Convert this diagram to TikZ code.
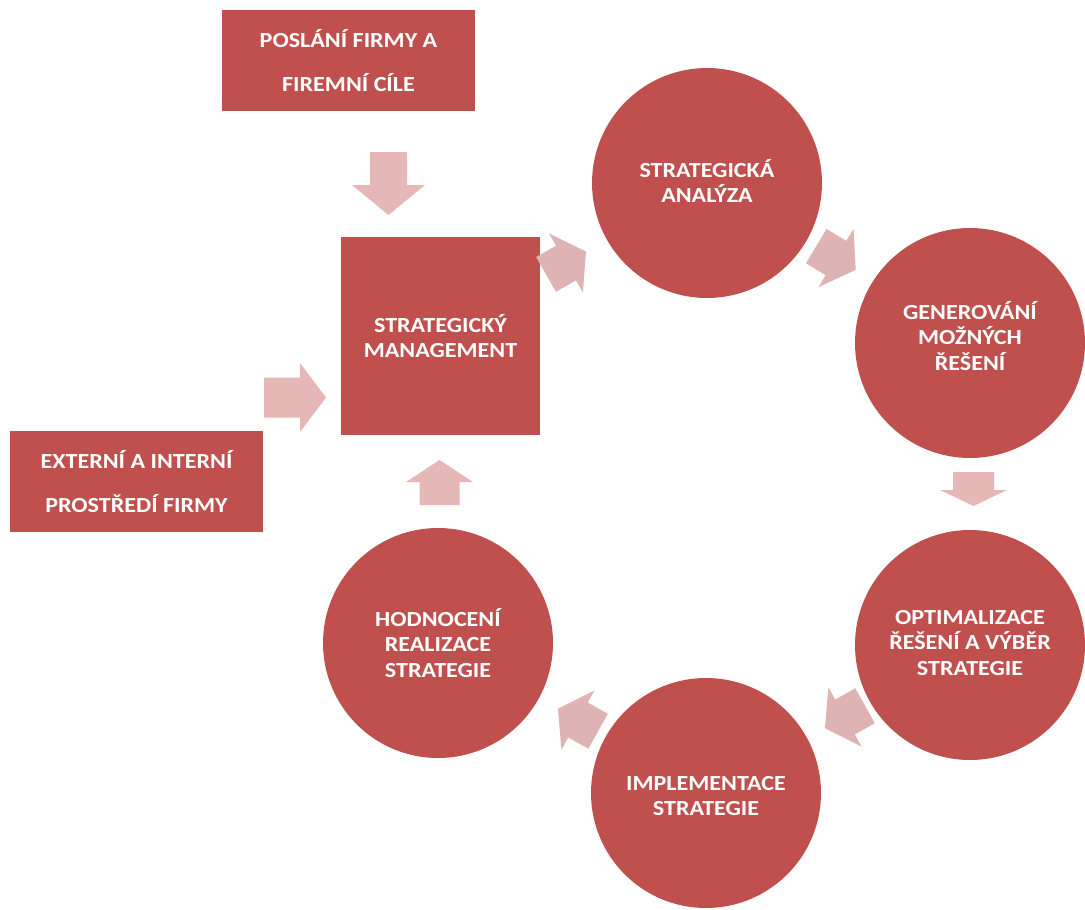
\documentclass[tikz,border=0pt]{standalone}
\usepackage{fontspec}
\setmainfont{Carlito}[FakeStretch=1.12]
\definecolor{mainred}{HTML}{C0504D}
\definecolor{outarrow}{HTML}{E5B8B7}
\definecolor{cycarrow}{HTML}{DDB3B3}
\newcommand{\blockarrow}[8]{%
  \begin{scope}[shift={(#1,#2)},rotate=#3]
    \pgfmathsetmacro{\hl}{#4/2}\pgfmathsetmacro{\hw}{#5/2}%
    \pgfmathsetmacro{\hW}{#6/2}\pgfmathsetmacro{\hb}{#4/2-#7}%
    \fill[#8] (-\hl pt,-\hw pt) -- (\hb pt,-\hw pt) -- (\hb pt,-\hW pt) -- (\hl pt,0pt)
      -- (\hb pt,\hW pt) -- (\hb pt,\hw pt) -- (-\hl pt,\hw pt) -- cycle;
  \end{scope}}
\tikzset{
  txt/.style={text=white, font=\bfseries\fontsize{21.5}{25.5}\selectfont, align=center, inner sep=0pt},
  boxtxt/.style={text=white, font=\bfseries\fontsize{21.5}{44}\selectfont, align=center, inner sep=0pt},
  rbox/.style={fill=mainred, draw=none, rectangle, inner sep=0pt},
  stage/.style={fill=mainred, draw=none, circle, minimum size=230pt, inner sep=0pt},
}
\begin{document}
\begin{tikzpicture}[x=1pt,y=-1pt]
\useasboundingbox (0,0) rectangle (1085,910);
% boxes
\node[rbox, minimum width=253pt, minimum height=101pt] (mise) at (348.5,60.5) {};
\node[boxtxt] (misetxt) at (mise) {POSLÁNÍ FIRMY A\\FIREMNÍ CÍLE};
\node[rbox, minimum width=253pt, minimum height=101pt] (env) at (136.5,481.5) {};
\node[boxtxt] (envtxt) at (env) {EXTERNÍ A INTERNÍ\\PROSTŘEDÍ FIRMY};
\node[rbox, minimum width=199pt, minimum height=198pt] (sm) at (440.5,336) {};
\node[txt] (smtxt) at (sm) {STRATEGICKÝ\\MANAGEMENT};
% circles
\node[stage] (c1) at (707,183) {};
\node[txt] at ([yshift=2pt]c1) {STRATEGICKÁ\\ANALÝZA};
\node[stage] (c2) at (970,343) {};
\node[txt] at ([yshift=7pt]c2) {GENEROVÁNÍ\\MOŽNÝCH\\ŘEŠENÍ};
\node[stage] (c3) at (970,645) {};
\node[txt] at ([yshift=2pt]c3) {OPTIMALIZACE\\ŘEŠENÍ A VÝBĚR\\STRATEGIE};
\node[stage] (c4) at (706,793) {};
\node[txt] at ([yshift=-3pt]c4) {IMPLEMENTACE\\STRATEGIE};
\node[stage] (c5) at (438,643) {};
\node[txt] at (c5) {HODNOCENÍ\\REALIZACE\\STRATEGIE};
% arrows
\blockarrow{388.5}{183.5}{-90}{63}{37}{73}{30}{outarrow}
\blockarrow{295}{397.5}{0}{62}{40}{69}{26}{outarrow}
\blockarrow{439.5}{482.5}{90}{45}{40}{67}{22}{outarrow}
\blockarrow{973.5}{489}{-90}{34}{41}{67}{16}{outarrow}
\blockarrow{566}{263}{29.8}{46}{40}{68}{23}{cycarrow}
\blockarrow{836}{258}{-31}{46}{40}{68}{23}{cycarrow}
\blockarrow{845}{717}{209.3}{46}{40}{68}{23}{cycarrow}
\blockarrow{578}{720}{150.8}{46}{40}{68}{23}{cycarrow}
\end{tikzpicture}
\end{document}
